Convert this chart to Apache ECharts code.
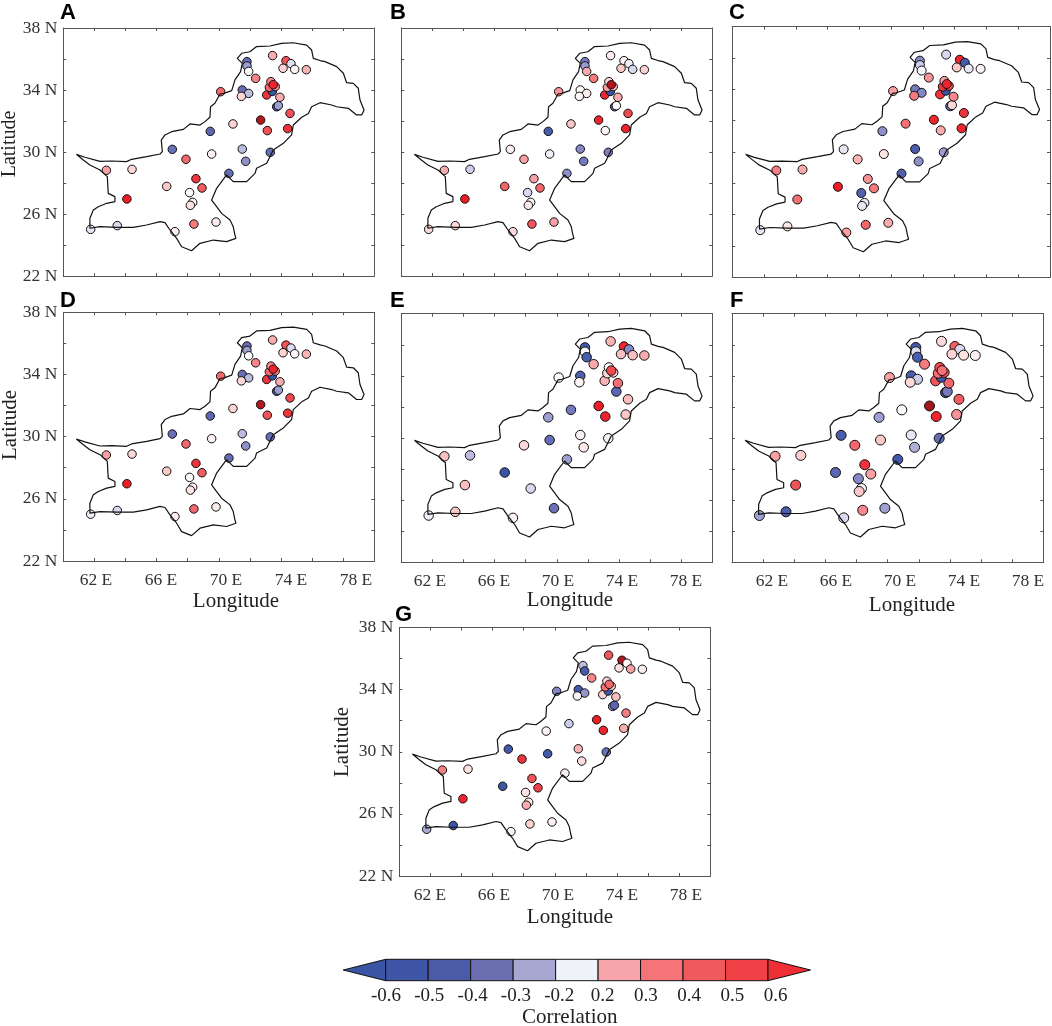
<!DOCTYPE html>
<html>
<head>
<meta charset="utf-8">
<script src="https://cdn.jsdelivr.net/npm/echarts@6/dist/echarts.min.js"></script>
<style>
  html, body { margin: 0; padding: 0; background: #fff; }
  #chart { width: 1052px; height: 1026px; }
</style>
</head>
<body>
<div id="chart"></div>
<script>
var xTickLabels = ['62 E', '66 E', '70 E', '74 E', '78 E']
var barLabels = ['-0.6', '-0.5', '-0.4', '-0.3', '-0.2', '0.2', '0.3', '0.4', '0.5', '0.6']
var barCells = [-1, 0, 1, 2, 3, 4, 5, 6, 7, 8, 9]
var barColors = ['#3b55a5', '#3f55a5', '#4c5ba8', '#6b6fb1', '#a7a7d2', '#f0f2fa', '#f7a5aa', '#f47479', '#f05a5f', '#ef4146', '#ee2f35']

// boundary of the country, lon / lat
var outlineLon = [60.84,61.39,62.36,63.11,64.07,64.39,65.36,66.22,66.37,66.30,66.54,66.97,67.72,68.15,68.79,69.11,69.43,69.47,69.75,70.08,70.33,70.83,71.04,71.40,71.51,71.19,71.47,72.00,72.43,73.29,74.04,74.79,75.65,75.97,76.08,76.51,76.83,77.58,78.01,78.22,78.65,78.97,79.08,79.34,79.19,78.86,78.33,77.58,77.26,76.51,75.97,75.76,75.33,74.79,74.68,74.15,73.50,73.29,73.08,72.43,72.33,71.79,70.93,70.50,69.86,69.54,69.86,70.18,70.72,70.93,71.02,71.10,70.50,69.65,68.79,68.25,67.61,67.29,66.86,66.54,66.22,65.36,64.50,63.43,62.36,61.71,61.71,61.93,62.25,62.79,63.32,63.32,62.89,62.83,62.36,61.71,61.29,60.84]
var outlineLat = [29.85,29.66,29.40,29.42,29.38,29.53,29.70,29.87,30.02,30.77,31.10,31.31,31.46,31.81,31.74,31.96,32.24,32.92,33.14,33.74,33.78,33.96,34.65,35.18,35.72,36.04,36.37,36.47,36.80,36.84,37.01,37.05,36.90,36.58,36.04,35.90,35.83,35.51,35.08,34.47,34.43,34.11,33.35,32.71,32.39,32.39,32.82,32.92,33.03,33.18,32.92,32.49,32.24,31.74,31.10,30.56,30.13,29.70,29.27,28.95,28.62,28.09,28.09,28.52,27.66,26.90,26.47,26.04,25.61,25.18,24.72,24.43,24.22,24.32,24.11,23.63,23.89,24.43,24.97,25.44,25.51,25.29,25.14,25.14,25.18,25.08,25.72,26.26,26.47,26.69,26.80,27.12,27.33,28.41,28.84,29.16,29.48,29.85]

// stations
var stationLon = [61.76,63.47,62.77,64.42,64.09,66.65,67.01,67.89,69.45,69.54,70.65,68.53,68.92,68.12,68.32,68.17,68.40,69.82,67.18,70.91,71.51,71.73,73.31,72.69,73.12,74.43,74.58,73.72,73.83,73.93,73.08,73.44,73.25,73.63,73.35,73.50,70.12,71.51,71.92,71.45,72.37,71.81,71.81,71.92,73.46,74.32,74.64,74.13,74.88,75.63]
var stationLat = [25.01,25.25,28.82,28.88,26.97,27.78,30.17,29.53,31.33,29.87,28.62,28.28,27.68,27.38,26.75,26.56,25.35,25.48,24.86,31.81,30.19,29.40,29.98,32.06,31.38,31.51,32.49,32.92,32.99,33.53,33.68,33.91,34.17,34.22,34.54,34.34,33.89,34.00,33.78,33.59,34.75,35.83,35.55,35.20,36.22,35.89,35.70,35.40,35.33,35.31]

var corrA = [-0.15,-0.2,0.3,0.15,0.6,0.2,-0.4,0.42,-0.45,0.05,-0.42,0.55,0.45,0.03,0.08,0.12,0.38,0.08,0.08,0.17,-0.25,-0.33,-0.42,0.68,0.48,0.55,0.48,-0.55,-0.3,0.27,0.55,-0.6,0.42,0.35,0.35,0.58,0.42,-0.42,-0.25,0.15,0.36,-0.42,-0.3,-0.05,0.27,0.48,-0.18,0.17,0.03,0.25]
var corrB = [0.15,0.15,0.27,-0.22,0.6,0.43,0.08,0.3,-0.52,-0.12,-0.33,0.3,0.42,-0.2,-0.05,0.1,0.47,0.3,0.15,0.2,-0.35,-0.38,-0.37,0.58,0.04,0.58,0.5,-0.5,-0.02,0.27,0.58,-0.6,0.3,0.25,0.15,0.68,0.33,0.02,0.08,0.03,0.38,-0.38,-0.3,0.27,0.08,0.06,-0.12,0.2,-0.2,0.17]
var corrC = [-0.15,0.1,0.37,0.28,0.4,0.6,-0.15,0.25,-0.33,0.12,-0.48,0.33,0.38,-0.47,-0.12,-0.15,0.43,0.27,0.3,0.4,-0.5,-0.33,-0.3,0.58,0.27,0.58,0.55,-0.45,0.15,0.35,0.55,-0.6,0.55,0.5,0.3,0.58,0.3,-0.38,-0.35,0.38,0.33,-0.35,-0.22,-0.1,-0.2,0.58,-0.55,0.2,-0.15,0.04]
var corrD = [-0.12,-0.2,0.3,0.15,0.6,0.2,-0.4,0.42,-0.45,0.05,-0.42,0.55,0.45,0.03,0.08,0.12,0.42,0.08,0.08,0.17,-0.25,-0.33,-0.42,0.68,0.48,0.55,0.5,-0.55,-0.3,0.27,0.55,-0.6,0.42,0.35,0.35,0.58,0.42,-0.42,-0.25,0.15,0.36,-0.42,-0.3,-0.05,0.27,0.48,-0.18,0.17,0.03,0.25]
var corrE = [-0.12,0.2,0.22,-0.25,0.22,-0.6,null,0.15,-0.3,-0.42,-0.3,null,null,null,-0.2,null,null,-0.4,0.04,-0.38,0.05,0.1,-0.1,0.6,0.58,0.2,0.23,null,-0.45,0.4,0.25,null,0.15,0.2,-0.05,0.5,0.03,-0.48,null,0.05,0.28,-0.55,0.02,-0.5,0.25,0.58,-0.35,0.22,0.22,0.27]
var corrF = [-0.3,-0.5,0.3,0.18,0.48,-0.45,-0.5,0.42,-0.3,0.2,-0.55,0.55,0.3,-0.35,-0.1,0.2,0.35,-0.3,-0.2,0.02,-0.15,-0.27,-0.42,0.72,0.58,0.33,0.45,-0.6,-0.38,0.42,0.48,-0.58,0.4,0.48,0.5,0.4,0.3,-0.5,-0.22,0.15,0.38,-0.55,-0.18,-0.5,0.15,0.45,-0.2,0.17,0.12,0.06]
var corrG = [-0.28,-0.58,0.37,0.12,0.58,-0.58,-0.55,0.55,0.05,-0.55,0.06,0.48,0.52,0.12,0.1,0.27,0.17,0.06,-0.1,-0.22,0.25,0.14,-0.4,0.6,0.58,0.27,0.37,-0.3,-0.45,0.22,0.17,-0.55,0.4,0.2,0.15,0.42,-0.35,-0.55,-0.32,0.05,0.35,null,-0.25,-0.52,0.47,0.68,0.03,0.12,0.3,0.08]

var rampColors = ['#3a55a5', '#4a5cac', '#6b71b8', '#9d9fd0', '#d8d8ee', '#f6f4fa', '#ffffff', '#fde8e8', '#fbc8c8', '#f8a0a4', '#f47075', '#f04a50', '#ee1c25', '#a4161c']

var serif = 'Liberation Serif'
var axisColor = '#555'

// panel boxes and where the hand placed tick labels sit in the figure
var panels = [
  { name: 'A', corr: corrA, left: 63.3, top: 28, width: 311, height: 248, size: 8.5, letter: [60, 2], yLabels: true, lat: [10, 144] },
  { name: 'B', corr: corrB, left: 401.3, top: 28, width: 311, height: 248, size: 8.5, letter: [390, 2] },
  { name: 'C', corr: corrC, left: 732.3, top: 26.7, width: 317.7, height: 250.6, size: 9, letter: [729, 2] },
  { name: 'D', corr: corrD, left: 63.3, top: 312.3, width: 311, height: 248.7, size: 8.5, letter: [60, 290], yLabels: true, lat: [10, 425], latSize: 21, xFirst: 96, xLast: 356, xName: [236, 601.5] },
  { name: 'E', corr: corrE, left: 401.3, top: 313.7, width: 311, height: 248.6, size: 9.5, letter: [390, 290], xFirst: 430, xLast: 686, xName: [570, 600] },
  { name: 'F', corr: corrF, left: 732, top: 313.7, width: 311.3, height: 248.6, size: 10, letter: [730, 290], xFirst: 772, xLast: 1028, xName: [912, 605] },
  { name: 'G', corr: corrG, left: 399.3, top: 627.5, width: 311, height: 248.5, size: 8.5, letter: [395, 604], yLabels: true, lat: [342, 742], latSize: 21, xFirst: 430, xLast: 686, xName: [570, 917] }
]

var grid = [], xAxis = [], yAxis = [], series = [], graphic = []
var scatterIdx = []

function boxAxis(type, g, pos, showLabel) {
  var isX = type === 'x'
  var ax = {
    type: 'value', gridIndex: g, position: pos,
    min: isX ? 60 : 22, max: isX ? 80 : 38, interval: 2,
    axisLine: { show: true, onZero: false, lineStyle: { color: axisColor, width: 1 } },
    axisTick: { show: true, inside: true, length: 3, lineStyle: { color: axisColor, width: 1 } },
    splitLine: { show: false },
    axisLabel: { show: false }
  }
  if (showLabel) {
    ax.axisLabel = {
      show: true, margin: 6, fontFamily: serif, fontSize: 17.5, color: '#333',
      showMinLabel: true, showMaxLabel: true, hideOverlap: false,
      formatter: function (v) { return (v - 22) % 4 === 0 ? v + ' N' : '' }
    }
  }
  return ax
}

function addText(text, x, y, size, rotation, extra) {
  graphic.push({
    type: 'text', x: x, y: y, rotation: rotation || 0, silent: true,
    style: Object.assign({ text: text, fontFamily: serif, fontSize: size, fill: '#222', align: 'center', verticalAlign: 'middle' }, extra || {})
  })
}

panels.forEach(function (p) {
  var g = grid.length
  grid.push({ left: p.left, top: p.top, width: p.width, height: p.height })
  xAxis.push(boxAxis('x', g, 'bottom'))
  var xIdx = xAxis.length - 1
  xAxis.push(boxAxis('x', g, 'top'))
  yAxis.push(boxAxis('y', g, 'left', p.yLabels))
  var yIdx = yAxis.length - 1
  yAxis.push(boxAxis('y', g, 'right'))

  series.push({
    type: 'line', xAxisIndex: xIdx, yAxisIndex: yIdx, showSymbol: false, silent: true, animation: false,
    lineStyle: { color: '#111', width: 1.2 },
    data: outlineLon.map(function (lon, i) { return [lon, outlineLat[i]] })
  })

  scatterIdx.push(series.length)
  series.push({
    type: 'scatter', name: p.name, xAxisIndex: xIdx, yAxisIndex: yIdx, symbolSize: p.size, animation: false,
    itemStyle: { borderColor: '#111', borderWidth: 1, opacity: 1 },
    data: stationLon.map(function (lon, i) { return [lon, stationLat[i], p.corr[i]] })
      .filter(function (d) { return d[2] !== null })
  })

  // x tick labels on their own strip, they do not line up with the ticks in the figure
  if (p.xFirst) {
    var s = grid.length
    grid.push({ left: p.xFirst, top: p.top + p.height, width: p.xLast - p.xFirst, height: 1 })
    xAxis.push({
      type: 'category', gridIndex: s, data: xTickLabels, boundaryGap: false,
      axisLine: { show: false }, axisTick: { show: false },
      axisLabel: { interval: 0, margin: 9, fontFamily: serif, fontSize: 17.5, color: '#333', hideOverlap: false }
    })
    yAxis.push({ type: 'value', gridIndex: s, show: false })
    addText('Longitude', p.xName[0], p.xName[1], 21)
  }
  if (p.lat) addText('Latitude', p.lat[0], p.lat[1], p.latSize || 20, Math.PI / 2)
  addText(p.name, p.letter[0], p.letter[1], 22, 0, {
    fontFamily: 'Liberation Sans', fontWeight: 'bold', fill: '#000', align: 'left', verticalAlign: 'top'
  })
})

// colour bar
var barGrid = grid.length
grid.push({ left: 385.7, top: 959.3, width: 382.3, height: 21.4 })
xAxis.push({ type: 'value', gridIndex: barGrid, min: 0, max: 9, show: false })
yAxis.push({ type: 'value', gridIndex: barGrid, min: 0, max: 1, show: false })
series.push({
  type: 'custom', xAxisIndex: xAxis.length - 1, yAxisIndex: yAxis.length - 1, silent: true, animation: false,
  data: barCells.map(function (c) { return [c] }),
  renderItem: function (params, api) {
    var c = api.value(0)
    var style = { fill: barColors[params.dataIndex], stroke: '#111', lineWidth: 1 }
    if (c === -1 || c === 9) {
      var edge = c === -1 ? 0 : 9
      var tip = c === -1 ? -1 : 10
      var a = api.coord([edge, 0]), b = api.coord([edge, 1]), t = api.coord([tip, 0.5])
      return { type: 'polygon', shape: { points: [a, b, t] }, style: style }
    }
    var p0 = api.coord([c, 1]), p1 = api.coord([c + 1, 0])
    return { type: 'rect', shape: { x: p0[0], y: p0[1], width: p1[0] - p0[0], height: p1[1] - p0[1] }, style: style }
  }
})
var barLabelGrid = grid.length
grid.push({ left: 386, top: 980.7, width: 389.7, height: 1 })
xAxis.push({
  type: 'category', gridIndex: barLabelGrid, data: barLabels, boundaryGap: false,
  axisLine: { show: false }, axisTick: { show: false },
  axisLabel: { interval: 0, margin: 5, fontFamily: serif, fontSize: 19, color: '#222', hideOverlap: false }
})
yAxis.push({ type: 'value', gridIndex: barLabelGrid, show: false })
addText('Correlation', 569.7, 1017, 21)

var chart = echarts.init(document.getElementById('chart'))
chart.setOption({
  animation: false,
  backgroundColor: '#fff',
  grid: grid,
  xAxis: xAxis,
  yAxis: yAxis,
  series: series,
  graphic: graphic,
  visualMap: {
    show: false, type: 'continuous', seriesIndex: scatterIdx, dimension: 2,
    min: -0.6, max: 0.7, inRange: { color: rampColors }
  }
})
</script>
</body>
</html>
